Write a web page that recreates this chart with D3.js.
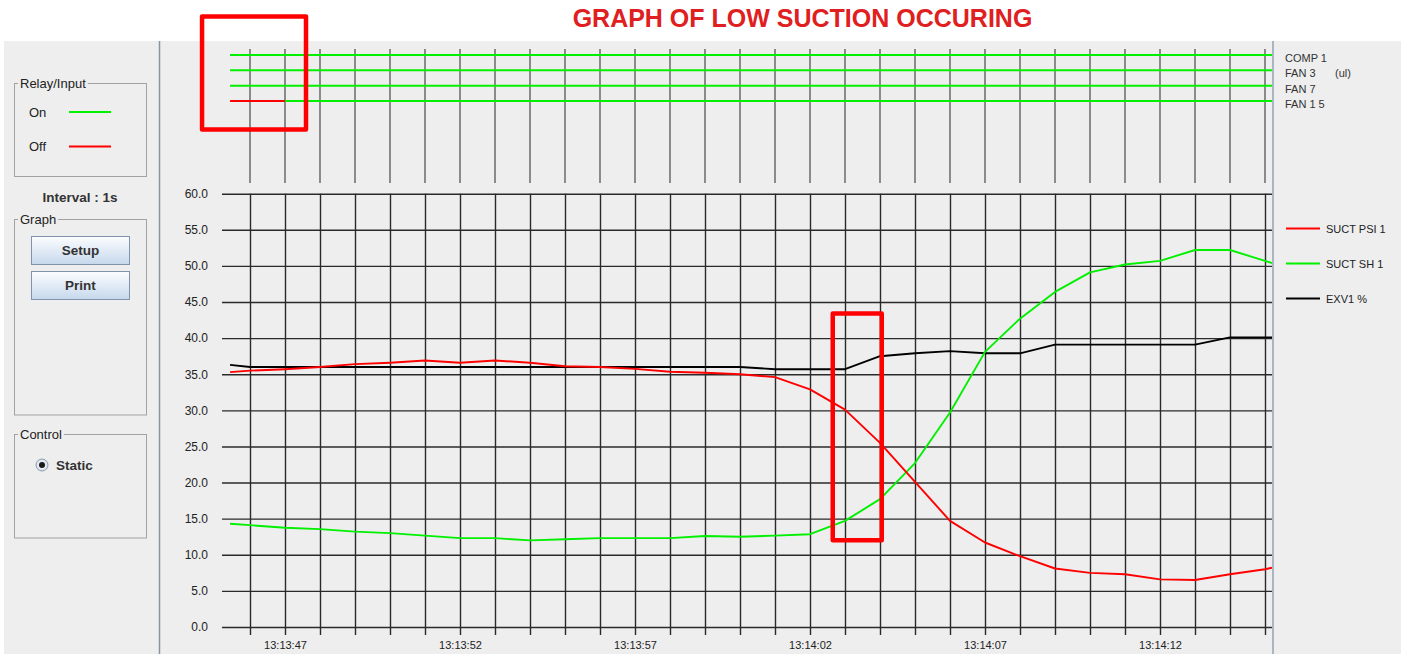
<!DOCTYPE html>
<html>
<head>
<meta charset="utf-8">
<script src="https://cdn.jsdelivr.net/npm/d3@7"></script>
<style>
  body { margin: 0; background: #ffffff; }
  svg { display: block; font-family: "Liberation Sans", Arial, sans-serif; }
</style>
</head>
<body>
<svg id="chart" width="1406" height="654"></svg>
<script>
// ---- data -------------------------------------------------------------
// sample times, in seconds past 13:13:00
const seconds = [45.43, 46, 47, 48, 49, 50, 51, 52, 53, 54, 55, 56, 57, 58, 59, 60,
                 61, 62, 63, 64, 65, 66, 67, 68, 69, 70, 71, 72, 73, 74, 75, 75.2];
const suctPsi1 = [35.3, 35.5, 35.7, 36.0, 36.4, 36.6, 36.9, 36.6, 36.9, 36.6, 36.1, 36.0, 35.75, 35.35, 35.2, 35.0,
                  34.6, 32.9, 30.1, 25.5, 20.1, 14.7, 11.7, 9.8, 8.1, 7.5, 7.3, 6.6, 6.5, 7.3, 8.0, 8.2];
const suctSh1 = [14.3, 14.1, 13.75, 13.55, 13.2, 13.0, 12.65, 12.3, 12.3, 12.0, 12.15, 12.3, 12.3, 12.3, 12.6, 12.5,
                 12.65, 12.85, 14.7, 17.7, 22.7, 29.7, 38.1, 42.7, 46.4, 49.1, 50.2, 50.7, 52.2, 52.2, 50.7, 50.4];
const exv1 = [36.3, 36.0, 36.0, 36.0, 36.0, 36.0, 36.0, 36.0, 36.0, 36.0, 36.0, 36.0, 36.0, 36.0, 36.0, 36.0,
              35.7, 35.7, 35.7, 37.5, 37.9, 38.2, 37.9, 37.9, 39.1, 39.1, 39.1, 39.1, 39.1, 40.1, 40.1, 40.1];

const seriesNames = ["SUCT PSI 1", "SUCT SH 1", "EXV1 %"];
const seriesColors = ["#ff0000", "#00f000", "#000000"];

// relay / input channels and the time each one switched on
const relayNames = ["COMP 1", "FAN 3", "FAN 7", "FAN 1 5"];
const relayTags = ["", "(ul)", "", ""];
const relayOnFrom = [45.43, 45.43, 45.43, 47];

const gridSeconds = d3.range(46, 76);          // one grid line per second
const labelSeconds = [47, 52, 57, 62, 67, 72]; // time labels every 5 s
const yTickValues = d3.range(0, 61, 5);

// highlighted windows: [start s, end s, low value, high value]
const dropWindow = [62.65, 64.05, 12.0, 43.4];
const relayWindow = [44.63, 47.6];

// ---- layout -----------------------------------------------------------
const svg = d3.select("#chart");
const W = 1406, H = 654;
const ON = "#00f000", OFF = "#ff0000";

const base = new Date(2000, 0, 1, 13, 13, 0).getTime();
const toDate = s => new Date(base + s * 1000);

const x = d3.scaleTime().domain([toDate(46), toDate(75)]).range([250, 1265]);
const y = d3.scaleLinear().domain([0, 60]).range([627, 193.7]);
const yRelay = d3.scalePoint().domain(relayNames).range([55, 101]);

const plotLeft = 222, plotRight = 1272, dataLeft = x(toDate(seconds[0]));
const fmt = d3.timeFormat("%H:%M:%S");

// window background
svg.append("rect").attr("x", 0).attr("y", 0).attr("width", W).attr("height", H).attr("fill", "#ffffff");
svg.append("rect").attr("x", 4).attr("y", 41).attr("width", 1397).attr("height", H - 41).attr("fill", "#eeeeee");

// title
svg.append("text")
  .attr("x", 802.5).attr("y", 27)
  .attr("text-anchor", "middle")
  .attr("font-size", 25).attr("font-weight", "bold")
  .attr("fill", "#e02020")
  .text("GRAPH OF LOW SUCTION OCCURING");

// panel separators
svg.append("line").attr("x1", 159.5).attr("x2", 159.5).attr("y1", 41).attr("y2", H)
  .attr("stroke", "#8893a3").attr("stroke-width", 1.5);

// ---- left control panel ----------------------------------------------
const panel = svg.append("g").attr("class", "panel");

function groupBox(top, bottom, title) {
  panel.append("rect").attr("x", 14.5).attr("y", top).attr("width", 132).attr("height", bottom - top)
    .attr("fill", "none").attr("stroke", "#a2a2a2").attr("stroke-width", 1);
  const t = panel.append("text").attr("x", 20).attr("y", top + 4.5)
    .attr("font-size", 13).attr("fill", "#222").text(title);
  const w = t.node().getComputedTextLength();
  panel.insert("rect", "text:last-of-type")
    .attr("x", 18).attr("y", top - 2).attr("width", w + 4).attr("height", 4).attr("fill", "#eeeeee");
}
groupBox(83.5, 176.5, "Relay/Input");
groupBox(219.5, 415, "Graph");
groupBox(434.5, 538, "Control");

[["On", ON, 112], ["Off", OFF, 146.5]].forEach(([label, color, yy]) => {
  panel.append("text").attr("x", 29).attr("y", yy + 4.5).attr("font-size", 13).attr("fill", "#222").text(label);
  panel.append("line").attr("x1", 69).attr("x2", 111).attr("y1", yy).attr("y2", yy)
    .attr("stroke", color).attr("stroke-width", 2.2);
});

panel.append("text").attr("x", 80).attr("y", 201.5).attr("text-anchor", "middle")
  .attr("font-size", 13.5).attr("font-weight", "bold").attr("fill", "#333").text("Interval : 1s");

const grad = svg.append("defs").append("linearGradient").attr("id", "btn").attr("x1", 0).attr("x2", 0).attr("y1", 0).attr("y2", 1);
grad.append("stop").attr("offset", "0%").attr("stop-color", "#fcfdff");
grad.append("stop").attr("offset", "100%").attr("stop-color", "#c6d8ec");
const radioGrad = svg.select("defs").append("radialGradient").attr("id", "radio");
radioGrad.append("stop").attr("offset", "0%").attr("stop-color", "#ffffff");
radioGrad.append("stop").attr("offset", "100%").attr("stop-color", "#d4dfeb");

[["Setup", 236], ["Print", 271]].forEach(([label, top]) => {
  panel.append("rect").attr("x", 31.5).attr("y", top + 0.5).attr("width", 98).attr("height", 28)
    .attr("fill", "url(#btn)").attr("stroke", "#7f93ab").attr("stroke-width", 1);
  panel.append("text").attr("x", 80.5).attr("y", top + 19).attr("text-anchor", "middle")
    .attr("font-size", 13.5).attr("font-weight", "bold").attr("fill", "#333").text(label);
});

panel.append("circle").attr("cx", 42).attr("cy", 465).attr("r", 6)
  .attr("fill", "url(#radio)").attr("stroke", "#8c9cb0").attr("stroke-width", 1);
panel.append("circle").attr("cx", 42).attr("cy", 465).attr("r", 3).attr("fill", "#1a1a1a");
panel.append("text").attr("x", 56).attr("y", 470).attr("font-size", 13.5).attr("font-weight", "bold")
  .attr("fill", "#333").text("Static");

// ---- relay / input strip ----------------------------------------------
const relay = svg.append("g").attr("class", "relay");
relay.selectAll("line.v").data(gridSeconds).join("line").attr("class", "v")
  .attr("x1", s => x(toDate(s))).attr("x2", s => x(toDate(s)))
  .attr("y1", 49).attr("y2", 183)
  .attr("stroke", "#555").attr("stroke-width", 1.3);

relayNames.forEach((name, i) => {
  const yy = yRelay(name);
  const xOn = x(toDate(relayOnFrom[i]));
  if (xOn > dataLeft) {
    relay.append("line").attr("x1", dataLeft).attr("x2", xOn).attr("y1", yy).attr("y2", yy)
      .attr("stroke", OFF).attr("stroke-width", 2);
  }
  relay.append("line").attr("x1", xOn).attr("x2", plotRight).attr("y1", yy).attr("y2", yy)
    .attr("stroke", ON).attr("stroke-width", 2);
  relay.append("text").attr("x", 1285).attr("y", yy + 7).attr("font-size", 11).attr("fill", "#333").text(name);
  if (relayTags[i]) {
    relay.append("text").attr("x", 1335).attr("y", yy + 7).attr("font-size", 11).attr("fill", "#333").text(relayTags[i]);
  }
});

// ---- analog chart ------------------------------------------------------
const chart = svg.append("g").attr("class", "analog");

// horizontal grid + value labels
const yAxis = d3.axisLeft(y).tickValues(yTickValues).tickFormat(d3.format(".1f"))
  .tickSize(-(plotRight - plotLeft)).tickPadding(14);
chart.append("g").attr("transform", `translate(${plotLeft},0)`).call(yAxis)
  .call(g => g.select(".domain").remove())
  .call(g => g.selectAll(".tick line").attr("stroke", "#2a2a2a").attr("stroke-width", 1.4))
  .call(g => g.selectAll(".tick text").attr("font-size", 12).attr("fill", "#222")
    .attr("font-family", "'Liberation Sans', Arial, sans-serif"));

// vertical grid + time labels
const xAxis = d3.axisBottom(x).tickValues(gridSeconds.map(toDate))
  .tickFormat(d => labelSeconds.includes((d.getTime() - base) / 1000) ? fmt(d) : "")
  .tickSize(-(635 - 193.7)).tickPadding(6);
chart.append("g").attr("transform", "translate(0,635)").call(xAxis)
  .call(g => g.select(".domain").remove())
  .call(g => g.selectAll(".tick line").attr("stroke", "#2a2a2a").attr("stroke-width", 1.4))
  .call(g => g.selectAll(".tick text").attr("font-size", 11).attr("fill", "#222")
    .attr("font-family", "'Liberation Sans', Arial, sans-serif"));

// series
svg.select("defs").append("clipPath").attr("id", "plotClip")
  .append("rect").attr("x", dataLeft).attr("y", 150).attr("width", plotRight - dataLeft).attr("height", 500);

const seriesValues = [suctPsi1, suctSh1, exv1];
const line = d3.line().x(d => x(toDate(d[0]))).y(d => y(d[1]));
const drawOrder = [2, 1, 0];
chart.append("g").attr("clip-path", "url(#plotClip)")
  .selectAll("path").data(drawOrder).join("path")
  .attr("d", i => line(seconds.map((s, k) => [s, seriesValues[i][k]])))
  .attr("fill", "none")
  .attr("stroke", i => seriesColors[i])
  .attr("stroke-width", 1.9)
  .attr("stroke-linejoin", "round");

// series legend
const legend = svg.append("g").attr("class", "legend");
seriesNames.forEach((name, i) => {
  const yy = 228.5 + i * 35;
  legend.append("line").attr("x1", 1286).attr("x2", 1320).attr("y1", yy).attr("y2", yy)
    .attr("stroke", seriesColors[i]).attr("stroke-width", 2);
  legend.append("text").attr("x", 1326).attr("y", yy + 4).attr("font-size", 11).attr("fill", "#222").text(name);
});

// plot right border
svg.append("line").attr("x1", 1273).attr("x2", 1273).attr("y1", 41).attr("y2", H)
  .attr("stroke", "#a9b5c4").attr("stroke-width", 2);

// ---- highlight boxes --------------------------------------------------
const marks = svg.append("g").attr("class", "highlights")
  .attr("fill", "none").attr("stroke", "#ff0000").attr("stroke-width", 4.5).attr("stroke-linejoin", "round");
marks.append("rect")
  .attr("x", x(toDate(relayWindow[0]))).attr("y", 16.5)
  .attr("width", x(toDate(relayWindow[1])) - x(toDate(relayWindow[0]))).attr("height", 113);
marks.append("rect")
  .attr("x", x(toDate(dropWindow[0]))).attr("y", y(dropWindow[3]))
  .attr("width", x(toDate(dropWindow[1])) - x(toDate(dropWindow[0])))
  .attr("height", y(dropWindow[2]) - y(dropWindow[3]));
</script>
</body>
</html>
